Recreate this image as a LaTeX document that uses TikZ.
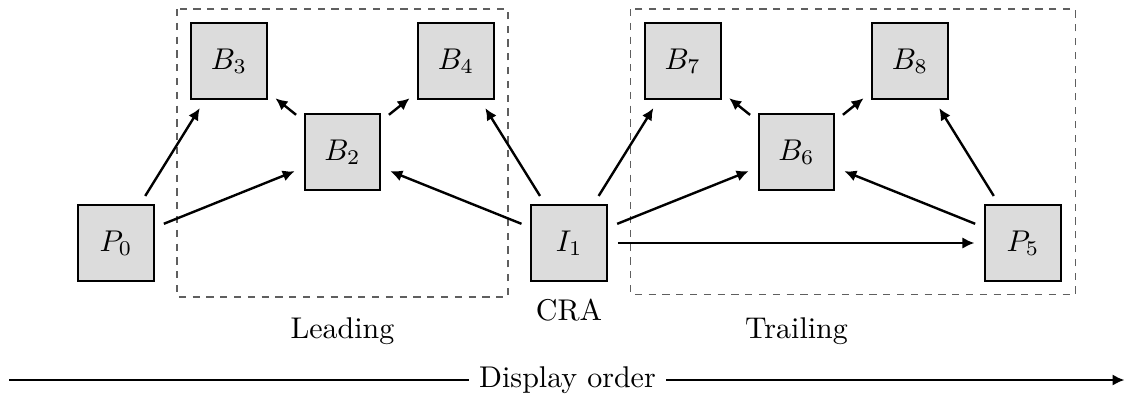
\documentclass[tikz,border=0pt]{standalone}
\usetikzlibrary{arrows.meta}
\definecolor{boxfill}{RGB}{220,220,220}
\definecolor{framegray}{RGB}{95,95,95}
\begin{document}
\begin{tikzpicture}[x=0.33333pt,y=-0.33333pt,
  frame/.style={draw=black, line width=0.65pt, fill=boxfill,
    minimum size=25.3pt, inner sep=0pt},
  link/.style={line width=0.8pt, -{Latex[length=4pt,width=3.8pt]},
    shorten >=3.2pt, shorten <=3.2pt},
  group/.style={draw=framegray, line width=0.45pt,
    dash pattern=on 2.4pt off 2.2pt},
  caption/.style={anchor=base, inner sep=0pt}]
\useasboundingbox (0,0) rectangle (1125,397);

% frames
\node[frame] (P0) at (116,243) {$P_0$};
\node[frame] (B3) at (229,61)  {$B_3$};
\node[frame] (B2) at (342.5,152) {$B_2$};
\node[frame] (B4) at (456,61)  {$B_4$};
\node[frame] (I1) at (569.3,243) {$I_1$};
\node[frame] (B7) at (682.7,61) {$B_7$};
\node[frame] (B6) at (796.5,152) {$B_6$};
\node[frame] (B8) at (910,61)  {$B_8$};
\node[frame] (P5) at (1023,243) {$P_5$};

% groups of pictures
\draw[group] (177,9) rectangle (508,297);
\draw[group] (630.7,9) rectangle (1075.3,294.7);

% references
\draw[link] (P0) -- (B3);
\draw[link] (P0) -- (B2);
\draw[link] (B2) -- (B3);
\draw[link] (B2) -- (B4);
\draw[link] (I1) -- (B2);
\draw[link] (I1) -- (B4);
\draw[link] (I1) -- (B7);
\draw[link] (I1) -- (B6);
\draw[link] (I1) -- (P5);
\draw[link] (B6) -- (B7);
\draw[link] (B6) -- (B8);
\draw[link] (P5) -- (B6);
\draw[link] (P5) -- (B8);

% captions
\node[caption] (lead) at (342.5,338) {Leading};
\node[caption] (trail) at (796.5,338) {Trailing};
\node[caption] (cra) at (569,320.7) {CRA};

% display order axis
\coordinate (axisstart) at (9,380);
\coordinate (axisend) at (1124.5,380);
\node (order) at (567.5,380) {Display order};
\draw[line width=0.8pt] (axisstart) -- (order.west);
\draw[line width=0.8pt, -{Latex[length=4pt,width=3.8pt]}] (order.east) -- (axisend);
\end{tikzpicture}
\end{document}
